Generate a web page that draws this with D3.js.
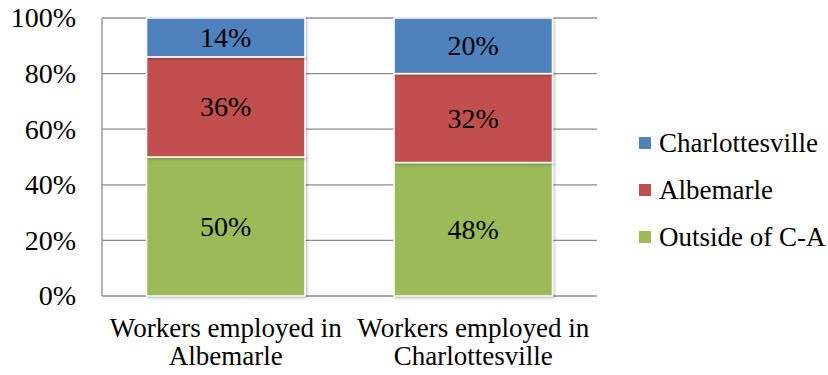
<!DOCTYPE html>
<html>
<head>
<meta charset="utf-8">
<script src="https://cdn.jsdelivr.net/npm/d3@7"></script>
<style>
  html, body { margin: 0; padding: 0; background: #fff; }
  svg { display: block; }
  text { font-family: "Liberation Serif", "DejaVu Serif", serif; fill: #000; }
</style>
</head>
<body>
<svg id="chart" width="828" height="375"></svg>
<script>
// Where workers live, by place of employment (shares of total)
const categories = [["Workers employed in", "Albemarle"], ["Workers employed in", "Charlottesville"]];
const seriesNames = ["Outside of C-A", "Albemarle", "Charlottesville"];
const outsideCA = [50, 48];
const albemarle = [36, 32];
const charlottesville = [14, 20];
const yTicks = [0, 20, 40, 60, 80, 100];
const colors = ["#9BBB59", "#C0504D", "#4F81BD"];

const svg = d3.select("#chart");
const margin = { left: 102, right: 231, top: 18, bottom: 79 };
const W = 828, H = 375;
const plotW = W - margin.left - margin.right;
const plotH = H - margin.top - margin.bottom;
const fontSize = 28;
const catFontSize = 27;
const legendFontSize = 27;

const x = d3.scaleBand().domain(d3.range(categories.length))
  .range([margin.left, margin.left + plotW]).paddingInner(0.36).paddingOuter(0.18);
const y = d3.scaleLinear().domain([0, 100]).range([margin.top + plotH, margin.top]);

// Gridlines
svg.append("g").selectAll("line").data(yTicks).join("line")
  .attr("x1", margin.left).attr("x2", margin.left + plotW)
  .attr("y1", d => y(d)).attr("y2", d => y(d))
  .attr("stroke", "#8c8c8c").attr("stroke-width", 1.3);

// Left axis line
svg.append("line")
  .attr("x1", margin.left).attr("x2", margin.left)
  .attr("y1", y(0)).attr("y2", y(100))
  .attr("stroke", "#8c8c8c").attr("stroke-width", 1.3);

// Y tick labels
const yAxis = d3.axisLeft(y).tickValues(yTicks).tickFormat(d => d + "%").tickSize(0).tickPadding(26);
const ya = svg.append("g").attr("transform", `translate(${margin.left},0)`).call(yAxis);
ya.select(".domain").remove();
ya.selectAll("text").attr("font-size", fontSize).attr("font-family", "Liberation Serif").attr("fill", "#000");

// Stacked data
const rows = categories.map((c, i) => ({
  idx: i,
  "Outside of C-A": outsideCA[i],
  "Albemarle": albemarle[i],
  "Charlottesville": charlottesville[i]
}));
const stacked = d3.stack().keys(seriesNames)(rows);

// Soft shadow for bars
const defs = svg.append("defs");
const f = defs.append("filter").attr("id", "shadow").attr("x", "-10%").attr("y", "-10%").attr("width", "120%").attr("height", "120%");
f.append("feDropShadow").attr("dx", 1.5).attr("dy", 1.5).attr("stdDeviation", 1.2).attr("flood-color", "#000").attr("flood-opacity", 0.25);

const layers = svg.append("g").selectAll("g").data(stacked).join("g")
  .attr("fill", (d, i) => colors[i]);

layers.selectAll("rect").data(d => d).join("rect")
  .attr("x", d => x(d.data.idx))
  .attr("width", x.bandwidth())
  .attr("y", d => y(d[1]))
  .attr("height", d => y(d[0]) - y(d[1]))
  .attr("stroke", "#fff").attr("stroke-width", 1.5)
  .attr("filter", "url(#shadow)");

// Value labels
layers.selectAll("text").data(d => d).join("text")
  .attr("x", d => x(d.data.idx) + x.bandwidth() / 2)
  .attr("y", d => (y(d[0]) + y(d[1])) / 2)
  .attr("text-anchor", "middle").attr("dominant-baseline", "central")
  .attr("font-size", fontSize)
  .text(d => (d[1] - d[0]) + "%");

// Category labels, two lines each
const catLines = [337, 365];
const cat = svg.append("g").selectAll("g").data(categories).join("g");
cat.selectAll("text").data((d, i) => d.map(t => ({ t, i }))).join("text")
  .attr("text-anchor", "middle")
  .attr("font-size", catFontSize)
  .attr("x", d => x(d.i) + x.bandwidth() / 2)
  .attr("y", (d, j) => catLines[j])
  .text(d => d.t);

// Legend
const legendY = [143, 190, 237];
const legendOrder = ["Charlottesville", "Albemarle", "Outside of C-A"];
const leg = svg.append("g").selectAll("g").data(legendOrder).join("g")
  .attr("transform", (d, i) => `translate(639,${legendY[i]})`);
leg.append("rect").attr("x", 0).attr("y", -6).attr("width", 12).attr("height", 12)
  .attr("fill", d => colors[seriesNames.indexOf(d)]);
leg.append("text").attr("x", 20).attr("y", 0).attr("dominant-baseline", "central")
  .attr("font-size", legendFontSize).text(d => d);
</script>
</body>
</html>
